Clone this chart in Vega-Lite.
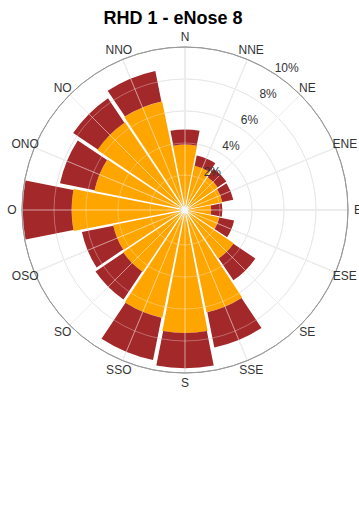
{
  "$schema": "https://vega.github.io/schema/vega-lite/v6.json",
  "width": 370,
  "height": 340,
  "autosize": {"type": "none"},
  "padding": {"left": 0, "top": 40, "right": 0, "bottom": 128},
  "title": {"text": "RHD 1 - eNose 8", "font": "Liberation Sans", "fontSize": 18, "fontWeight": "bold", "color": "#000000", "anchor": "middle", "dx": -12, "dy": 15, "offset": 4, "baseline": "alphabetic"},
  "config": {"view": {"stroke": null}},
  "datasets": {
    "rose": [
      {"dir": "N", "cat": "nivel 1", "pct": 3.9}, {"dir": "N", "cat": "nivel 2", "pct": 0.95},
      {"dir": "NNE", "cat": "nivel 1", "pct": 2.65}, {"dir": "NNE", "cat": "nivel 2", "pct": 0.65},
      {"dir": "NE", "cat": "nivel 1", "pct": 2.3}, {"dir": "NE", "cat": "nivel 2", "pct": 0.65},
      {"dir": "ENE", "cat": "nivel 1", "pct": 2.2}, {"dir": "ENE", "cat": "nivel 2", "pct": 0.7},
      {"dir": "E", "cat": "nivel 1", "pct": 1.45}, {"dir": "E", "cat": "nivel 2", "pct": 0.7},
      {"dir": "ESE", "cat": "nivel 1", "pct": 2.0}, {"dir": "ESE", "cat": "nivel 2", "pct": 0.95},
      {"dir": "SE", "cat": "nivel 1", "pct": 3.5}, {"dir": "SE", "cat": "nivel 2", "pct": 1.65},
      {"dir": "SSE", "cat": "nivel 1", "pct": 6.35}, {"dir": "SSE", "cat": "nivel 2", "pct": 2.25},
      {"dir": "S", "cat": "nivel 1", "pct": 7.5}, {"dir": "S", "cat": "nivel 2", "pct": 2.2},
      {"dir": "SSO", "cat": "nivel 1", "pct": 6.7}, {"dir": "SSO", "cat": "nivel 2", "pct": 2.7},
      {"dir": "SO", "cat": "nivel 1", "pct": 4.5}, {"dir": "SO", "cat": "nivel 2", "pct": 2.1},
      {"dir": "OSO", "cat": "nivel 1", "pct": 4.4}, {"dir": "OSO", "cat": "nivel 2", "pct": 2.0},
      {"dir": "O", "cat": "nivel 1", "pct": 6.9}, {"dir": "O", "cat": "nivel 2", "pct": 3.05},
      {"dir": "ONO", "cat": "nivel 1", "pct": 5.6}, {"dir": "ONO", "cat": "nivel 2", "pct": 2.2},
      {"dir": "NO", "cat": "nivel 1", "pct": 6.45}, {"dir": "NO", "cat": "nivel 2", "pct": 1.85},
      {"dir": "NNO", "cat": "nivel 1", "pct": 6.75}, {"dir": "NNO", "cat": "nivel 2", "pct": 1.95}
    ],
    "dirs": [
      {"dir": "N", "deg": 0}, {"dir": "NNE", "deg": 22.5}, {"dir": "NE", "deg": 45}, {"dir": "ENE", "deg": 67.5},
      {"dir": "E", "deg": 90}, {"dir": "ESE", "deg": 112.5}, {"dir": "SE", "deg": 135}, {"dir": "SSE", "deg": 157.5},
      {"dir": "S", "deg": 180}, {"dir": "SSO", "deg": 202.5}, {"dir": "SO", "deg": 225}, {"dir": "OSO", "deg": 247.5},
      {"dir": "O", "deg": 270}, {"dir": "ONO", "deg": 292.5}, {"dir": "NO", "deg": 315}, {"dir": "NNO", "deg": 337.5}
    ],
    "rings": [
      {"v": 2, "label": "2%"}, {"v": 4, "label": "4%"}, {"v": 6, "label": "6%"}, {"v": 8, "label": "8%"}, {"v": 10, "label": "10%"}
    ]
  },
  "resolve": {"scale": {"theta": "independent"}},
  "layer": [
    {
      "data": {"name": "rings"},
      "transform": [{"filter": "datum.v < 10"}],
      "mark": {"type": "arc", "theta": 0, "theta2": 6.2832, "filled": false, "stroke": "#dddddd", "strokeWidth": 1},
      "encoding": {
        "radius": {"field": "v", "type": "quantitative", "stack": null, "scale": {"type": "linear", "domain": [0, 10], "range": [3, 163], "nice": false}}
      }
    },
    {
      "data": {"name": "dirs"},
      "mark": {"type": "arc", "filled": false, "stroke": "#dddddd", "strokeWidth": 1},
      "encoding": {
        "theta": {"field": "deg", "type": "quantitative", "stack": null, "scale": {"domain": [0, 360], "range": [0, 6.28319], "nice": false}},
        "theta2": {"field": "deg"},
        "radius": {"datum": 10, "type": "quantitative", "stack": null, "scale": {"type": "linear", "domain": [0, 10], "range": [3, 163], "nice": false}},
        "radius2": {"datum": 0}
      }
    },
    {
      "data": {"name": "rose"},
      "mark": {"type": "arc", "padAngle": 0.022},
      "encoding": {
        "theta": {"field": "dir", "type": "nominal", "sort": ["N", "NNE", "NE", "ENE", "E", "ESE", "SE", "SSE", "S", "SSO", "SO", "OSO", "O", "ONO", "NO", "NNO"], "scale": {"type": "band", "domain": ["N", "NNE", "NE", "ENE", "E", "ESE", "SE", "SSE", "S", "SSO", "SO", "OSO", "O", "ONO", "NO", "NNO"], "range": [-0.19635, 6.08684], "paddingInner": 0, "paddingOuter": 0}},
        "radius": {"field": "pct", "type": "quantitative", "stack": true, "scale": {"type": "linear", "domain": [0, 10], "range": [3, 163], "nice": false}},
        "color": {"field": "cat", "type": "nominal", "scale": {"domain": ["nivel 1", "nivel 2"], "range": ["#FFA500", "#A3282A"]}, "legend": null},
        "order": {"field": "cat"}
      }
    },
    {
      "data": {"name": "rings"},
      "transform": [{"filter": "datum.v < 10"}],
      "mark": {"type": "arc", "theta": 0, "theta2": 6.2832, "filled": false, "stroke": "#ffffff", "strokeOpacity": 0.3, "strokeWidth": 1},
      "encoding": {
        "radius": {"field": "v", "type": "quantitative", "stack": null, "scale": {"type": "linear", "domain": [0, 10], "range": [3, 163], "nice": false}}
      }
    },
    {
      "data": {"name": "dirs"},
      "mark": {"type": "arc", "filled": false, "stroke": "#ffffff", "strokeOpacity": 0.3, "strokeWidth": 1},
      "encoding": {
        "theta": {"field": "deg", "type": "quantitative", "stack": null, "scale": {"domain": [0, 360], "range": [0, 6.28319], "nice": false}},
        "theta2": {"field": "deg"},
        "radius": {"datum": 10, "type": "quantitative", "stack": null, "scale": {"type": "linear", "domain": [0, 10], "range": [3, 163], "nice": false}},
        "radius2": {"datum": 0}
      }
    },
    {
      "data": {"name": "rings"},
      "transform": [{"filter": "datum.v == 10"}],
      "mark": {"type": "arc", "theta": 0, "theta2": 6.2832, "filled": false, "stroke": "#9a9a9a", "strokeWidth": 1},
      "encoding": {
        "radius": {"field": "v", "type": "quantitative", "stack": null, "scale": {"type": "linear", "domain": [0, 10], "range": [3, 163], "nice": false}},
        "radius2": {"field": "v"}
      }
    },
    {
      "data": {"name": "dirs"},
      "mark": {"type": "text", "font": "Liberation Sans", "fontSize": 12, "color": "#333333", "radiusOffset": 10, "align": "center", "baseline": "middle"},
      "encoding": {
        "theta": {"field": "deg", "type": "quantitative", "stack": null, "scale": {"domain": [0, 360], "range": [0, 6.28319], "nice": false}},
        "radius": {"datum": 10, "type": "quantitative", "stack": null, "scale": {"type": "linear", "domain": [0, 10], "range": [3, 163], "nice": false}},
        "text": {"field": "dir"}
      }
    },
    {
      "data": {"name": "rings"},
      "mark": {"type": "text", "font": "Liberation Sans", "fontSize": 12, "color": "#333333", "theta": 0.62, "radiusOffset": 12, "align": "center", "baseline": "middle"},
      "encoding": {
        "radius": {"field": "v", "type": "quantitative", "stack": null, "scale": {"type": "linear", "domain": [0, 10], "range": [3, 163], "nice": false}},
        "text": {"field": "label"}
      }
    }
  ]
}
